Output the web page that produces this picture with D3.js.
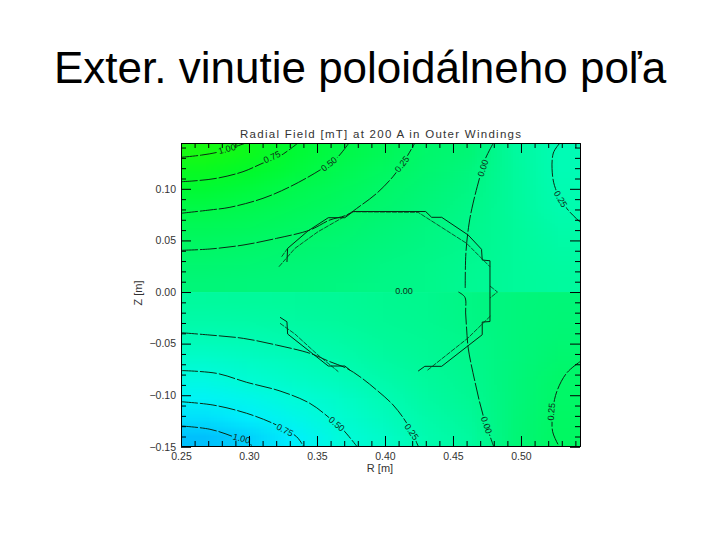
<!DOCTYPE html>
<html><head><meta charset="utf-8">
<script src="https://cdn.jsdelivr.net/npm/d3@7/dist/d3.min.js"></script>
<style>html,body{margin:0;padding:0;background:#fff}svg{display:block}text{font-family:"Liberation Sans",Arial,sans-serif}</style>
</head><body><svg id="c" width="720" height="540"></svg>
<script>
const pageTitle = "Exter. vinutie poloidálneho poľa";
const chartTitle = "Radial Field [mT] at 200 A in Outer Windings";
const xLabel = "R [m]", yLabel = "Z [m]";
const xMajor = [0.25,0.30,0.35,0.40,0.45,0.50];
const xMinor = [0.26,0.27,0.28,0.29,0.31,0.32,0.33,0.34,0.36,0.37,0.38,0.39,0.41,0.42,0.43,0.44,0.46,0.47,0.48,0.49,0.51,0.52,0.53,0.54];
const yMajor = [0.10,0.05,0,-0.05,-0.10,-0.15];
const yMinor = [0.14,0.13,0.12,0.11,0.09,0.08,0.07,0.06,0.04,0.03,0.02,0.01,-0.01,-0.02,-0.03,-0.04,-0.06,-0.07,-0.08,-0.09,-0.11,-0.12,-0.13,-0.14];

const colorValues = [1.25,1,0.75,0.5,0.25,0.1,0,-0.1,-0.25,-0.5,-0.75,-1,-1.25];
const colorStops = ["#32fa00","#14fa14","#00fa2c","#00fa4a","#00f868","#00f678","#00f88c","#00fa9e","#00fcb2","#00fcd8","#00f2fc","#00ccfc","#00a8fc"];

const fieldUpper = [
 [1.03,0.91,0.69,0.53,0.40,0.22,0.12,-0.10,-0.27],
 [0.85,0.76,0.61,0.45,0.32,0.18,0.07,-0.09,-0.27],
 [0.68,0.60,0.47,0.37,0.25,0.13,0.04,-0.09,-0.25],
 [0.52,0.46,0.38,0.30,0.19,0.09,0.02,-0.09,-0.23],
 [0.39,0.36,0.30,0.22,0.12,0.06,0.00,-0.08,-0.19],
 [0.28,0.25,0.20,0.14,0.08,0.04,-0.01,-0.08,-0.15],
 [0.18,0.16,0.12,0.09,0.05,0.02,-0.03,-0.08,-0.12],
 [0.10,0.09,0.08,0.06,0.03,0.01,-0.04,-0.08,-0.10]];
const fieldLower = [
 [-0.10,-0.09,-0.08,-0.06,-0.03,-0.01,0.04,0.08,0.10],
 [-0.18,-0.16,-0.13,-0.09,-0.05,-0.02,0.03,0.08,0.12],
 [-0.29,-0.26,-0.21,-0.15,-0.08,-0.04,0.01,0.08,0.15],
 [-0.42,-0.37,-0.31,-0.23,-0.13,-0.06,0.00,0.08,0.19],
 [-0.56,-0.47,-0.39,-0.31,-0.20,-0.09,-0.02,0.09,0.24],
 [-0.70,-0.62,-0.50,-0.40,-0.27,-0.13,-0.04,0.09,0.26],
 [-0.87,-0.77,-0.62,-0.46,-0.33,-0.18,-0.07,0.10,0.28],
 [-1.08,-0.96,-0.76,-0.53,-0.40,-0.23,-0.10,0.11,0.30]];

const contourP100 = [[.25,.1305],[.2652,.1327],[.2787,.1360],[.2934,.1424],[.2978,.1444]];
const contourP075 = [[.25,.1069],[.2588,.1076],[.2762,.1102],[.2956,.1166],[.3103,.1250],[.3228,.1318],[.3360,.1444]];
const contourP050 = [[.25,.0763],[.2713,.0795],[.2860,.0821],[.3103,.0908],[.3301,.1020],[.3522,.1182],[.3644,.1296],[.3735,.1444]];
const contourP025 = [[.25,.0404],[.2713,.0417],[.2956,.0455],[.3203,.0520],[.3448,.0601],[.3595,.0698],[.3718,.0746],[.3816,.0833],[.3939,.0956],[.4058,.1117],[.4132,.1250],[.4220,.1444]];
const contourZeroUp = [[.4797,.1444],[.4734,.1279],[.4698,.1117],[.4648,.0862],[.4619,.0669],[.4595,.0378],[.4590,.0039]];
const contourZeroLow = [[.4540,0],[.4588,-.0051],[.4593,-.0203],[.4600,-.0349],[.4612,-.0543],[.4662,-.0872],[.4721,-.1192],[.4798,-.1492]];
const contourTopRight = [[.5287,.1444],[.5238,.1347],[.5233,.1117],[.5263,.0972],[.5336,.0811],[.5434,.0678]];
const contourBotRight = [[.5434,-.0675],[.5336,-.0785],[.5263,-.0966],[.5233,-.1160],[.5233,-.1354],[.5279,-.1492]];
const contourN025 = [[.25,-.0394],[.2713,-.0417],[.2958,-.0449],[.3203,-.0514],[.3448,-.0594],[.3595,-.0675],[.3718,-.0739],[.3816,-.0821],[.3939,-.0950],[.4060,-.1095],[.4159,-.1269],[.4244,-.1492]];
const contourN050 = [[.25,-.0761],[.2762,-.0788],[.2983,-.0875],[.3228,-.0959],[.3448,-.1079],[.3595,-.1224],[.3693,-.1337],[.3791,-.1492]];
const contourN075 = [[.25,-.1063],[.2735,-.1095],[.2983,-.1175],[.3203,-.1289],[.3350,-.1402],[.3399,-.1492]];
const contourN100 = [[.25,-.1298],[.2713,-.1330],[.2884,-.1402],[.3031,-.1492]];
const contours = [contourP100,contourP075,contourP050,contourP025,contourZeroUp,contourZeroLow,contourTopRight,contourBotRight,contourN025,contourN050,contourN075,contourN100];

const labelText = ["1.00","0.75","0.50","0.25","0.00","0.00","0.25","0.25","0.00","0.25","0.50","0.75","1.00"];
const labelR = [.2838,.3169,.3588,.4125,.4720,.4140,.5291,.4196,.4747,.5223,.3645,.3264,.2946];
const labelZ = [.1386,.1308,.1240,.1240,.1202,.0010,.0901,-.1354,-.1289,-.1160,-.1279,-.1337,-.1418];
const labelAngle = [-15,-25,-38,-52,-72,0,60,55,72,-85,40,28,15];

const coilOuterMain = [[.3279,.0291],[.3284,.0423],[.3433,.0591],[.3583,.0720],[.3705,.0720],[.3766,.0780],[.4299,.0780],[.4343,.0724],[.4417,.0724],[.4612,.0552],[.4710,.0414],[.4715,.0310],[.4772,.0303],[.4772,-.0286],[.4715,-.0291],[.4715,-.0414],[.4417,-.0720],[.4293,-.0720],[.4244,-.0766]];
const coilOuterLeft = [[.3228,-.0245],[.3279,-.0288],[.3284,-.0407],[.3583,-.0717],[.3705,-.0717],[.3742,-.0756]];
const coilInnerTop = [[.3220,.0245],[.3338,.0423],[.3507,.0584],[.3764,.0778],[.4244,.0772],[.4600,.0472],[.4772,.0245]];
const coilStub = [[.3240,.0342],[.3284,.0423]];
const coilInnerRight = [[.4775,-.0233],[.4610,-.0446],[.4307,-.0763]];
const coilInnerLeft = [[.3228,-.0303],[.3338,-.0407],[.3507,-.0610],[.3657,-.0772]];
const coilNotch = [[.4772,.0058],[.4827,0],[.4772,-.0058]];

const svg = d3.select("#c");
const L=181,R=580,T=143,B=446;
const x = d3.scaleLinear().domain([0.25,0.5434]).range([L,R]);
const y = d3.scaleLinear().domain([-0.1492,0.1444]).range([B,T]);
const col = d3.scaleLinear().domain(colorValues).range(colorStops).clamp(true);
const line = d3.line().x(d=>x(d[0])).y(d=>y(d[1]));
const lineSmooth = d3.line().x(d=>x(d[0])).y(d=>y(d[1])).curve(d3.curveCatmullRom);

function fieldImage(grid){
  const cv=document.createElement("canvas");cv.width=grid[0].length;cv.height=grid.length;
  const g=cv.getContext("2d");
  grid.forEach((row,j)=>row.forEach((v,i)=>{g.fillStyle=col(v);g.fillRect(i,j,1,1);}));
  return cv.toDataURL();
}
svg.append("image").attr("href",fieldImage(fieldUpper)).attr("x",L).attr("y",T).attr("width",R-L).attr("height",y(0)-T).attr("preserveAspectRatio","none");
svg.append("image").attr("href",fieldImage(fieldLower)).attr("x",L).attr("y",y(0)).attr("width",R-L).attr("height",B-y(0)).attr("preserveAspectRatio","none");

const defs=svg.append("defs");
defs.append("clipPath").attr("id","plot").append("rect").attr("x",L).attr("y",T).attr("width",R-L).attr("height",B-T);
const mask=defs.append("mask").attr("id","gaps").attr("maskUnits","userSpaceOnUse").attr("x",0).attr("y",0).attr("width",720).attr("height",540);
mask.append("rect").attr("width",720).attr("height",540).attr("fill","#fff");
labelText.forEach((t,i)=>{
  mask.append("rect").attr("x",-10).attr("y",-4).attr("width",20).attr("height",8).attr("fill","#000")
    .attr("transform",`translate(${x(labelR[i])},${y(labelZ[i])}) rotate(${labelAngle[i]})`);
});

const cg=svg.append("g").attr("clip-path","url(#plot)").append("g").attr("mask","url(#gaps)");
cg.selectAll("path").data(contours).join("path").attr("d",lineSmooth).attr("fill","none").attr("stroke","#0a2a14").attr("stroke-width",1).attr("stroke-dasharray","17 2");

const gl=svg.append("g").attr("fill","none");
[coilOuterMain,coilOuterLeft].forEach(d=>gl.append("path").attr("d",line(d)).attr("stroke","#062812").attr("stroke-width",1));
[coilInnerTop,coilStub,coilInnerRight,coilInnerLeft,coilNotch].forEach(d=>gl.append("path").attr("d",line(d)).attr("stroke","#0a3018").attr("stroke-width",0.8).attr("stroke-dasharray","5 1"));

svg.append("g").selectAll("text").data(labelText).join("text").text(d=>d)
  .attr("transform",(d,i)=>`translate(${x(labelR[i])},${y(labelZ[i])}) rotate(${labelAngle[i]})`)
  .attr("text-anchor","middle").attr("dy","0.35em").attr("font-size",9).attr("fill","#0c2c18");

const fmt=d=>d3.format(".2f")(d).replace("-","\u2212");
function style(g){g.selectAll("path.domain").attr("stroke","#000").attr("stroke-width",1);g.selectAll("line").attr("stroke","#000").attr("stroke-width",1);g.selectAll("text").attr("font-size",10.5).attr("fill","#333").attr("font-family",'"Liberation Sans",Arial,sans-serif');}
function axes(a,size,vals,fm,tr,pad){
  const ax=a.tickValues(vals).tickSize(size).tickSizeOuter(0).tickPadding(pad).tickFormat(fm);
  svg.append("g").attr("transform",tr).call(ax).call(style);
}
axes(d3.axisBottom(x),-10,xMajor,fmt,`translate(0,${B})`,7);
axes(d3.axisBottom(x),-5,xMinor,"",`translate(0,${B})`,7);
axes(d3.axisTop(x),-10,xMajor,"",`translate(0,${T})`,8);
axes(d3.axisTop(x),-5,xMinor,"",`translate(0,${T})`,8);
axes(d3.axisLeft(y),-10,yMajor,fmt,`translate(${L},0)`,5);
axes(d3.axisLeft(y),-5,yMinor,"",`translate(${L},0)`,5);
axes(d3.axisRight(y),-10,yMajor,"",`translate(${R},0)`,5);
axes(d3.axisRight(y),-5,yMinor,"",`translate(${R},0)`,5);

svg.append("text").text(pageTitle).attr("x",54).attr("y",83).attr("font-size",44).attr("fill","#000");
svg.append("text").text(chartTitle).attr("x",240).attr("y",138).attr("font-size",11.5).attr("textLength",281).attr("fill","#333");
svg.append("text").text(xLabel).attr("x",380).attr("y",472).attr("text-anchor","middle").attr("font-size",11).attr("fill","#333");
svg.append("text").text(yLabel).attr("transform","translate(142,293) rotate(-90)").attr("text-anchor","middle").attr("font-size",11).attr("fill","#333");
</script></body></html>
